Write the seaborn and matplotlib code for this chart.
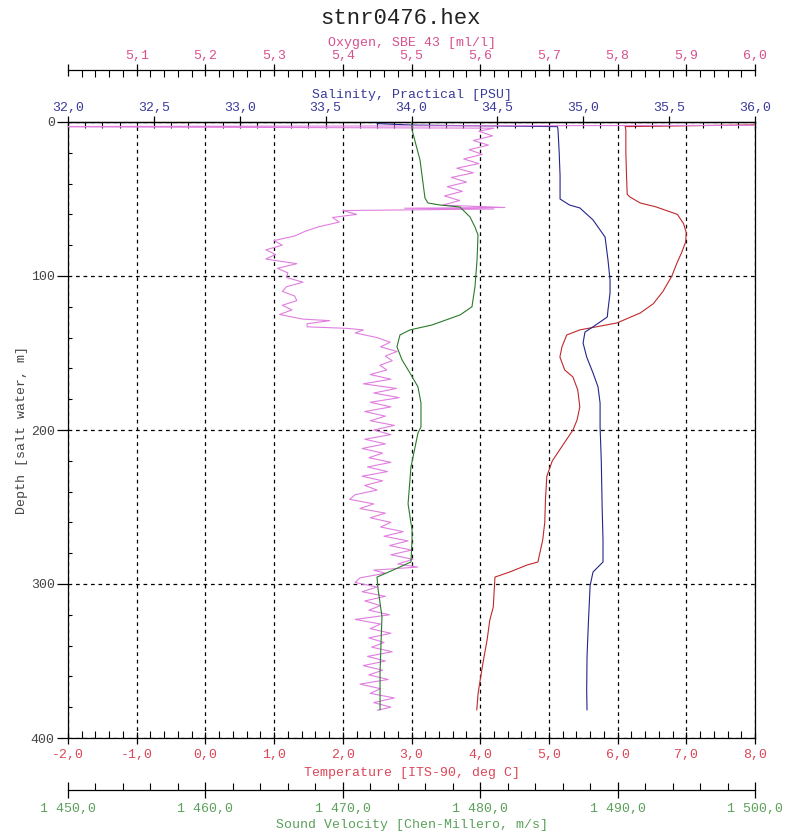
import matplotlib
matplotlib.use("Agg")
import matplotlib.pyplot as plt
from matplotlib.ticker import MultipleLocator, FuncFormatter
import pandas as pd
import seaborn as sns

# ---------------- data ----------------
temp_depth = [1.5, 3, 5, 20, 35, 47, 48.7, 52.6, 55, 60, 66, 72, 78, 85, 92, 100,
              110, 118, 124, 130.5, 135, 138.3, 146, 152.6, 161, 165.6, 174, 185,
              193.5, 200, 210, 220, 230, 245, 260, 271.4, 285.7, 287.7, 292.2,
              295.5, 299.4, 315, 323.4, 336.4, 351.3, 362.3, 370.8, 381.8]
temp_vals = [8.6, 6.11, 6.12, 6.12, 6.13, 6.14, 6.18, 6.33, 6.55, 6.87, 6.96, 7.00,
             6.99, 6.93, 6.86, 6.79, 6.66, 6.52, 6.33, 5.99, 5.45, 5.26, 5.19, 5.16,
             5.23, 5.35, 5.42, 5.45, 5.41, 5.35, 5.20, 5.05, 4.97, 4.95, 4.94, 4.91,
             4.84, 4.68, 4.43, 4.215, 4.21, 4.19, 4.14, 4.10, 4.04, 4.00, 3.97, 3.95]

sal_depth = [1, 2, 3, 5, 20, 35, 50, 53.9, 55.8, 63.6, 74.7, 89.6, 102.6, 111, 122,
             126.6, 133, 136.4, 143.5, 152.6, 163, 172, 182.5, 198, 220, 250, 271.4,
             285.7, 292.2, 301, 325, 347, 369, 381.8]
sal_vals = [33.80, 34.00, 34.85, 34.853, 34.86, 34.865, 34.865, 34.92, 34.98, 35.057,
            35.127, 35.144, 35.156, 35.156, 35.144, 35.14, 35.057, 35.01, 34.999,
            35.02, 35.057, 35.086, 35.098, 35.098, 35.105, 35.11, 35.115, 35.115,
            35.057, 35.04, 35.03, 35.022, 35.02, 35.022]

sv_depth = [0, 5.2, 24.7, 49.4, 52.6, 53.9, 55.2, 61.7, 68.2, 73.4, 89.6, 107, 120,
            125.3, 131.8, 135, 138.3, 146, 154.5, 163, 172, 182.5, 198, 202, 224, 248,
            265, 271.4, 285.7, 291, 295.5, 303, 321, 357, 381.8]
sv_vals = [1475.0, 1475.04, 1475.62, 1475.98, 1476.2, 1477.07, 1478.53, 1479.26,
           1479.62, 1479.84, 1479.77, 1479.62, 1479.40, 1478.53, 1476.49, 1474.89,
           1474.16, 1473.94, 1474.31, 1474.89, 1475.47, 1475.69, 1475.69, 1475.47,
           1474.96, 1474.75, 1475.04, 1475.04, 1474.96, 1473.65, 1472.49, 1472.56,
           1472.85, 1472.71, 1472.71]

oxy_depth = [2, 3, 4, 6, 9, 12, 15, 18, 21, 24,
             27, 30, 33, 36, 39, 42, 45, 48, 51, 54,
             55.5, 56, 56.5, 57.5, 60, 62, 65, 68, 71, 74,
             77, 80, 83, 86, 89, 92, 95, 98, 101, 104,
             107, 110, 113, 116, 119, 122, 125, 128, 129, 131,
             133, 134, 135, 137, 140, 143, 146, 149, 152, 155,
             158, 161, 164, 167, 170, 173, 176, 179, 182, 185,
             188, 191, 194, 197, 200, 203, 206, 209, 212, 215,
             218, 221, 224, 227, 230, 233, 236, 239, 242, 245,
             248, 251, 254, 257, 260, 263, 266, 269, 272, 275,
             278, 281, 284, 287, 289, 291, 293, 296, 299, 302,
             305, 308, 311, 314, 317, 320, 323, 326, 329, 332,
             335, 338, 341, 344, 347, 350, 353, 356, 359, 362,
             365, 368, 371, 374, 377, 380, 382]
oxy_vals = [6.20, 4.90, 5.620, 5.598, 5.618, 5.590, 5.612, 5.584, 5.603, 5.576,
            5.598, 5.566, 5.590, 5.558, 5.580, 5.552, 5.574, 5.548, 5.570, 5.545,
            5.636, 5.490, 5.620, 5.400, 5.420, 5.385, 5.395, 5.365, 5.345, 5.330,
            5.300, 5.312, 5.288, 5.302, 5.288, 5.333, 5.305, 5.320, 5.318, 5.342,
            5.318, 5.312, 5.330, 5.333, 5.312, 5.326, 5.308, 5.342, 5.381, 5.348,
            5.348, 5.406, 5.430, 5.418, 5.450, 5.469, 5.455, 5.479, 5.462, 5.472,
            5.454, 5.464, 5.440, 5.470, 5.430, 5.478, 5.445, 5.482, 5.440, 5.470,
            5.432, 5.462, 5.440, 5.475, 5.445, 5.470, 5.432, 5.462, 5.428, 5.458,
            5.438, 5.470, 5.436, 5.465, 5.428, 5.458, 5.432, 5.450, 5.418, 5.410,
            5.445, 5.425, 5.462, 5.440, 5.470, 5.455, 5.488, 5.460, 5.495, 5.468,
            5.500, 5.470, 5.502, 5.480, 5.509, 5.445, 5.462, 5.425, 5.418, 5.450,
            5.428, 5.462, 5.432, 5.455, 5.438, 5.468, 5.418, 5.455, 5.440, 5.470,
            5.438, 5.460, 5.442, 5.472, 5.436, 5.462, 5.430, 5.458, 5.438, 5.466,
            5.425, 5.455, 5.440, 5.475, 5.445, 5.470, 5.450]

title = "stnr0476.hex"
lbl_temp = "Temperature [ITS-90, deg C]"
lbl_sal = "Salinity, Practical [PSU]"
lbl_oxy = "Oxygen, SBE 43 [ml/l]"
lbl_sv = "Sound Velocity [Chen-Millero, m/s]"
lbl_depth = "Depth [salt water, m]"

# ---------------- style ----------------
sns.set_theme(style="white")
plt.rcParams['font.family'] = ['Liberation Mono', 'DejaVu Sans Mono']
plt.rcParams['axes.linewidth'] = 0.9

c_temp_line, c_temp_lbl = "#c0282a", "#dc4658"
c_sal_line, c_sal_lbl = "#24248c", "#3a3a9a"
c_oxy_line, c_oxy_lbl = "#e07ee0", "#d6508e"
c_sv_line, c_sv_lbl = "#2a7a2a", "#5aa05a"
FS = 9.5

dec1 = FuncFormatter(lambda v, p: f"{v:.1f}".replace('.', ','))
oxyfmt = FuncFormatter(lambda v, p: "" if v < 5.05 else f"{v:.1f}".replace('.', ','))
svfmt = FuncFormatter(lambda v, p: f"{v:,.1f}".replace(',', ' ').replace('.', ','))

fig = plt.figure(figsize=(7.87, 8.38), dpi=100)
ax = fig.add_axes([68 / 787, 1 - 738 / 838, (755 - 68) / 787, (738 - 122) / 838])
ax_sal = ax.twiny()
ax_oxy = ax.twiny()
ax_sv = ax.twiny()

df_t = pd.DataFrame({"v": temp_vals, "d": temp_depth})
df_s = pd.DataFrame({"v": sal_vals, "d": sal_depth})
df_o = pd.DataFrame({"v": oxy_vals, "d": oxy_depth})
df_v = pd.DataFrame({"v": sv_vals, "d": sv_depth})

kw = dict(x="v", y="d", sort=False, estimator=None, linewidth=0.8, legend=False)
sns.lineplot(data=df_o, ax=ax_oxy, color=c_oxy_line, **kw)
sns.lineplot(data=df_v, ax=ax_sv, color=c_sv_line, **kw)
sns.lineplot(data=df_s, ax=ax_sal, color=c_sal_line, **kw)
sns.lineplot(data=df_t, ax=ax, color=c_temp_line, **kw)

ax.set_xlim(-2, 8)
ax_sal.set_xlim(32, 36)
ax_oxy.set_xlim(5.0, 6.0)
ax_sv.set_xlim(1450, 1500)
ax.set_ylim(400, 0)

for a in (ax, ax_sal, ax_oxy, ax_sv):
    a.set_ylabel("")
    a.set_xlabel("")

# main axes: temperature (bottom) + depth (left)
ax.xaxis.set_major_locator(MultipleLocator(1))
ax.xaxis.set_minor_locator(MultipleLocator(0.2))
ax.xaxis.set_major_formatter(dec1)
ax.yaxis.set_major_locator(MultipleLocator(100))
ax.yaxis.set_minor_locator(MultipleLocator(20))
ax.tick_params(axis='x', which='major', direction='inout', length=9, width=0.9,
               color='black', labelcolor=c_temp_lbl, labelsize=FS, pad=3.5,
               top=False, bottom=True)
ax.tick_params(axis='x', which='minor', direction='in', length=5, width=0.8,
               color='black', top=False, bottom=True)
ax.tick_params(axis='y', which='major', direction='out', length=8, width=0.9,
               color='black', labelcolor='#444444', labelsize=FS, pad=1.5,
               left=True, right=False)
ax.tick_params(axis='y', which='minor', direction='in', length=3, width=0.8,
               color='black', left=True, right=False)
ax.set_xlabel(lbl_temp, color=c_temp_lbl, fontsize=FS, labelpad=4)
ax.set_ylabel(lbl_depth, color='#444444', fontsize=FS, labelpad=2)
ax.grid(True, which='major', color='black', linestyle=(0, (3, 3)), linewidth=0.9)
for s in ax.spines.values():
    s.set_color('black')
    s.set_visible(True)

# salinity on top spine
ax_sal.xaxis.set_major_locator(MultipleLocator(0.5))
ax_sal.xaxis.set_minor_locator(MultipleLocator(0.1))
ax_sal.xaxis.set_major_formatter(dec1)
ax_sal.tick_params(axis='x', which='major', direction='inout', length=9, width=0.9,
                   color='black', labelcolor=c_sal_lbl, labelsize=FS, pad=1)
ax_sal.tick_params(axis='x', which='minor', direction='in', length=4, width=0.8,
                   color='black')
ax_sal.set_xlabel(lbl_sal, color=c_sal_lbl, fontsize=FS, labelpad=3)
for k in ('bottom', 'left', 'right'):
    ax_sal.spines[k].set_visible(False)
ax_sal.spines['top'].set_color('black')

# oxygen on a raised top spine
ax_oxy.spines['top'].set_position(('axes', 1 + (122 - 70) / 616))
ax_oxy.xaxis.set_major_locator(MultipleLocator(0.1))
ax_oxy.xaxis.set_minor_locator(MultipleLocator(0.02))
ax_oxy.xaxis.set_major_formatter(oxyfmt)
ax_oxy.tick_params(axis='x', which='major', direction='inout', length=9, width=0.9,
                   color='black', labelcolor=c_oxy_lbl, labelsize=FS, pad=1)
ax_oxy.tick_params(axis='x', which='minor', direction='in', length=5, width=0.8,
                   color='black')
ax_oxy.set_xlabel(lbl_oxy, color=c_oxy_lbl, fontsize=FS, labelpad=3)
for k in ('bottom', 'left', 'right'):
    ax_oxy.spines[k].set_visible(False)
ax_oxy.spines['top'].set_color('black')

# sound velocity on a lowered bottom spine
ax_sv.xaxis.set_ticks_position('bottom')
ax_sv.xaxis.set_label_position('bottom')
ax_sv.spines['bottom'].set_position(('axes', -(790 - 738) / 616))
ax_sv.xaxis.set_major_locator(MultipleLocator(10))
ax_sv.xaxis.set_minor_locator(MultipleLocator(2))
ax_sv.xaxis.set_major_formatter(svfmt)
ax_sv.tick_params(axis='x', which='major', direction='inout', length=11, width=0.9,
                  color='black', labelcolor=c_sv_lbl, labelsize=FS, pad=3.5)
ax_sv.tick_params(axis='x', which='minor', direction='in', length=5, width=0.8,
                  color='black')
ax_sv.set_xlabel(lbl_sv, color=c_sv_lbl, fontsize=FS, labelpad=3)
for k in ('top', 'left', 'right'):
    ax_sv.spines[k].set_visible(False)
ax_sv.spines['bottom'].set_color('black')

fig.text(400 / 787, 1 - 18 / 838, title, ha='center', va='center',
         fontsize=16, color='#222222')

fig.savefig("out.png", dpi=100, facecolor='white')
